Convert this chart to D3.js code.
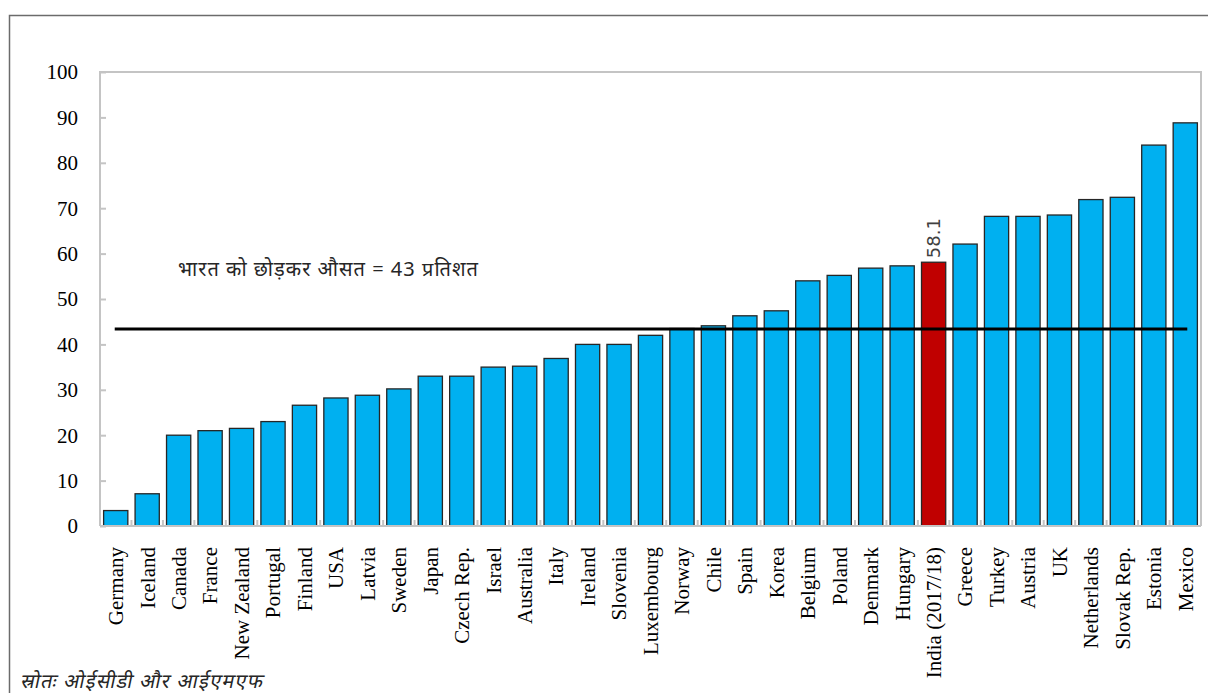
<!DOCTYPE html>
<html>
<head>
<meta charset="utf-8">
<script src="https://cdn.jsdelivr.net/npm/d3@7"></script>
<style>
  body { margin: 0; background: #fff; }
  svg { display: block; }
</style>
</head>
<body>
<script>
// data
const countries = ["Germany", "Iceland", "Canada", "France", "New Zealand", "Portugal", "Finland",
  "USA", "Latvia", "Sweden", "Japan", "Czech Rep.", "Israel", "Australia", "Italy", "Ireland",
  "Slovenia", "Luxembourg", "Norway", "Chile", "Spain", "Korea", "Belgium", "Poland", "Denmark",
  "Hungary", "India (2017/18)", "Greece", "Turkey", "Austria", "UK", "Netherlands", "Slovak Rep.",
  "Estonia", "Mexico"]
const values = [3.4, 7.1, 20.0, 21.0, 21.5, 23.0, 26.6, 28.2, 28.8, 30.2, 33.0, 33.0, 35.0, 35.2,
  36.9, 40.0, 40.0, 42.0, 43.5, 44.1, 46.3, 47.4, 54.0, 55.2, 56.8, 57.3, 58.1, 62.1, 68.2, 68.2,
  68.5, 71.9, 72.4, 83.9, 88.8]
const highlight = "India (2017/18)"
const avgValue = 43.4
const avgLabel = "भारत को छोड़कर औसत = 43 प्रतिशत"
const yTicks = [0, 10, 20, 30, 40, 50, 60, 70, 80, 90, 100]
const sourceNote = "स्रोतः ओईसीडी और आईएमएफ"

const width = 1208, height = 693
const margin = {left: 100, right: 7, top: 72, bottom: 167}

const svg = d3.select("body").append("svg")
    .attr("width", width)
    .attr("height", height)

// outer frame
svg.append("rect")
    .attr("x", 9.5).attr("y", 15.5)
    .attr("width", 1210).attr("height", 700)
    .style("fill", "none")
    .style("stroke", "#6b6b6b")
    .style("stroke-width", 1.5)

const x = d3.scaleBand()
    .domain(countries)
    .range([margin.left, width - margin.right])
    .paddingInner(0.23)
    .paddingOuter(0.115)

const y = d3.scaleLinear()
    .domain([0, 100])
    .range([height - margin.bottom, margin.top])

const x0 = margin.left, x1 = width - margin.right
const y0 = y(0), y1 = y(100)

// plot box (grey)
svg.append("path")
    .attr("d", `M${x0},${y0}V${y1}H${x1}V${y0}`)
    .style("fill", "none")
    .style("stroke", "#c4c4c4")
    .style("stroke-width", 2)

// y ticks, pointing inward
const yAxis = svg.append("g")
    .attr("transform", `translate(${x0},0)`)
    .call(d3.axisRight(y).tickValues(yTicks).tickSize(6).tickFormat(""))
yAxis.select(".domain").remove()
yAxis.selectAll("line").style("stroke", "#c4c4c4").style("stroke-width", 2)

svg.append("g").selectAll("text")
    .data(yTicks)
    .join("text")
    .attr("x", 78)
    .attr("y", d => y(d))
    .attr("dy", "0.35em")
    .attr("text-anchor", "end")
    .style("font-family", "'Liberation Serif', 'Times New Roman', serif")
    .style("font-size", "21px")
    .style("fill", "#000")
    .text(d => d)

// bars
svg.append("g").selectAll("rect")
    .data(countries)
    .join("rect")
    .attr("x", d => x(d))
    .attr("y", (d, i) => y(values[i]))
    .attr("width", x.bandwidth())
    .attr("height", (d, i) => y0 - y(values[i]))
    .style("fill", d => d === highlight ? "#c00000" : "#00b0f0")
    .style("stroke", "#262626")
    .style("stroke-width", 1.3)

// category boundary ticks on the x axis
const step = x.step()
svg.append("g").selectAll("line")
    .data(d3.range(1, countries.length))
    .join("line")
    .attr("x1", i => x0 + i * step)
    .attr("x2", i => x0 + i * step)
    .attr("y1", y0)
    .attr("y2", y0 - 6)
    .style("stroke", "#c4c4c4")
    .style("stroke-width", 2)

// bottom axis line over bars
svg.append("line")
    .attr("x1", x0).attr("x2", x1)
    .attr("y1", y0).attr("y2", y0)
    .style("stroke", "#c4c4c4")
    .style("stroke-width", 2)

// category labels, rotated
svg.append("g").selectAll("text")
    .data(countries)
    .join("text")
    .attr("transform", d => `translate(${x(d) + x.bandwidth() / 2},${y0 + 21}) rotate(-90)`)
    .attr("dy", "0.35em")
    .attr("text-anchor", "end")
    .style("font-family", "'Liberation Serif', 'Times New Roman', serif")
    .style("font-size", "21px")
    .style("fill", "#000")
    .text(d => d)

// average line
const first = countries[0], last = countries[countries.length - 1]
svg.append("line")
    .attr("x1", x(first) + x.bandwidth() / 2 - 1)
    .attr("x2", x(last) + x.bandwidth() / 2 + 2)
    .attr("y1", y(avgValue)).attr("y2", y(avgValue))
    .style("stroke", "#000")
    .style("stroke-width", 3)

svg.append("text")
    .attr("x", 178)
    .attr("y", 276)
    .attr("textLength", 300)
    .style("font-family", "'Noto Sans', 'Noto Sans Devanagari', sans-serif")
    .style("font-size", "20px")
    .style("fill", "#262626")
    .text(avgLabel)

// value label for highlighted bar
const hi = countries.indexOf(highlight)
svg.append("text")
    .attr("transform", `translate(${x(highlight) + x.bandwidth() / 2},${y(values[hi]) - 4}) rotate(-90)`)
    .attr("dy", "0.35em")
    .style("font-family", "'DejaVu Sans', sans-serif")
    .style("font-size", "18px")
    .style("fill", "#404040")
    .text(values[hi].toFixed(1))

// source (synthetic slant, the fallback font has no italic)
svg.append("text")
    .attr("transform", "translate(20,688) skewX(-12)")
    .attr("textLength", 242)
    .style("font-family", "'Noto Sans', 'Noto Sans Devanagari', sans-serif")
    .style("font-size", "20px")
    .style("fill", "#262626")
    .text(sourceNote)
</script>
</body>
</html>
